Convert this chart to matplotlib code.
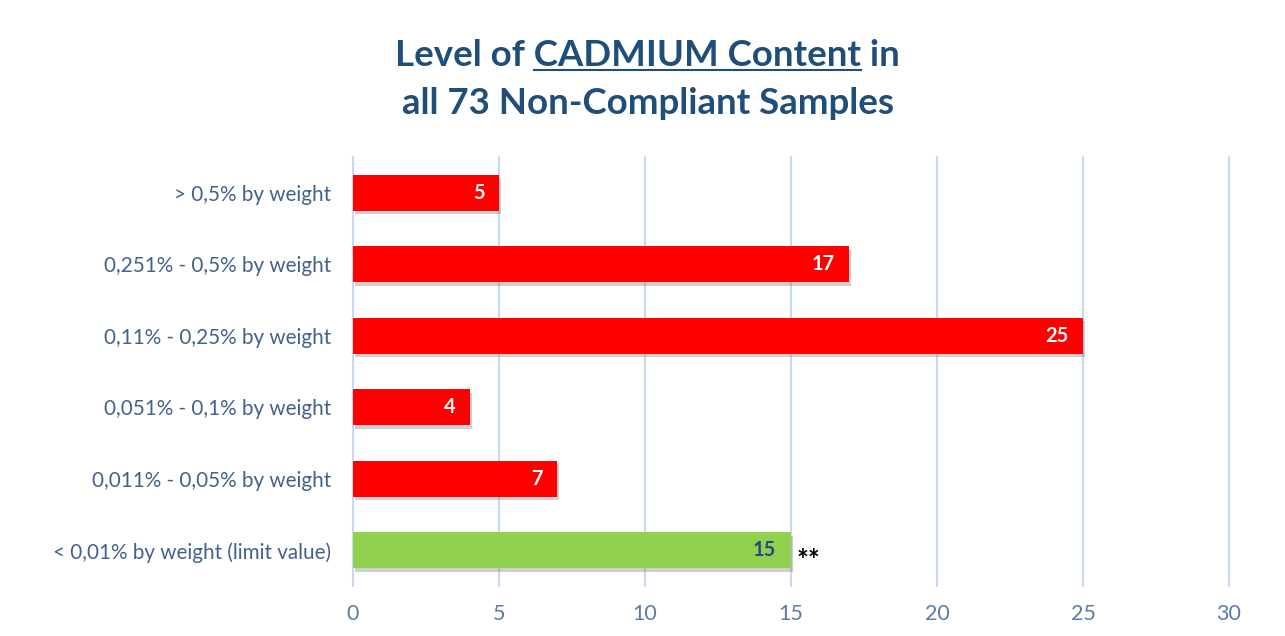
import matplotlib.pyplot as plt
import matplotlib.patheffects as pe

# --- data ---
categories = [
    "> 0,5% by weight",
    "0,251% - 0,5% by weight",
    "0,11% - 0,25% by weight",
    "0,051% - 0,1% by weight",
    "0,011% - 0,05% by weight",
    "< 0,01% by weight (limit value)",
]
values = [5, 17, 25, 4, 7, 15]
colors = ["#FF0000", "#FF0000", "#FF0000", "#FF0000", "#FF0000", "#92D050"]
label_colors = ["white", "white", "white", "white", "white", "#1F4E79"]
x_ticks = [0, 5, 10, 15, 20, 25, 30]

title_color = "#1F4E79"
tick_color = "#44618B"
grid_color = "#C9DAF0"
font = "Lato"
title_size = 26.4

fig = plt.figure(figsize=(12.85, 6.36), dpi=100)
ax = fig.add_axes([0.2747, 0.0786, 0.6817, 0.6745])

ypos = list(range(len(categories)))
bars = ax.barh(ypos, values, height=0.5, color=colors, zorder=3)
for b in bars:
    b.set_path_effects([pe.SimplePatchShadow(offset=(1.5, -2.5), shadow_rgbFace="#777777", alpha=0.35),
                        pe.Normal()])

for y, v, lc in zip(ypos, values, label_colors):
    ax.text(v - 0.5, y, str(v), ha="right", va="center", color=lc,
            fontsize=14.5, fontweight="bold", family=font, zorder=4)
ax.text(values[-1] + 0.2, ypos[-1] + 0.15, "**", ha="left", va="center", color="black",
        fontsize=20, fontweight="bold", family=font)

ax.set_ylim(len(categories) - 0.5, -0.5)
ax.set_xlim(0, 30)
ax.set_xticks(x_ticks)
ax.set_xticklabels([str(t) for t in x_ticks], family=font, fontsize=15.5, color="#5B7BA6")
ax.set_yticks(ypos)
ax.set_yticklabels(categories, family=font, fontsize=14.9, color=tick_color)
ax.tick_params(length=0, axis="y", pad=15.5)
ax.tick_params(length=0, axis="x", pad=13)
for s in ax.spines.values():
    s.set_visible(False)
for t in x_ticks:
    ax.axvline(t, color=grid_color, lw=1.5, zorder=1, clip_on=False)

# --- title with underlined part ---
line1 = fig.text(0.504, 0.912, "Level of CADMIUM Content in", ha="center", va="center",
                 fontsize=title_size, fontweight="bold", color=title_color, family=font)
fig.text(0.504, 0.837, "all 73 Non-Compliant Samples", ha="center", va="center",
         fontsize=title_size, fontweight="bold", color=title_color, family=font)

fig.canvas.draw()
r = fig.canvas.get_renderer()
bb = line1.get_window_extent(r)
def width(s):
    t = fig.text(0, 0, s, fontsize=title_size, fontweight="bold", family=font)
    w = t.get_window_extent(r).width
    t.remove()
    return w
x0 = bb.x0 + width("Level of ")
x1 = bb.x0 + width("Level of CADMIUM Content")
yline = bb.y0 + 2
W, H = fig.bbox.width, fig.bbox.height
fig.add_artist(plt.Line2D([x0 / W, x1 / W], [yline / H, yline / H],
                          color=title_color, lw=1.5))

fig.savefig("out.png", dpi=100)
